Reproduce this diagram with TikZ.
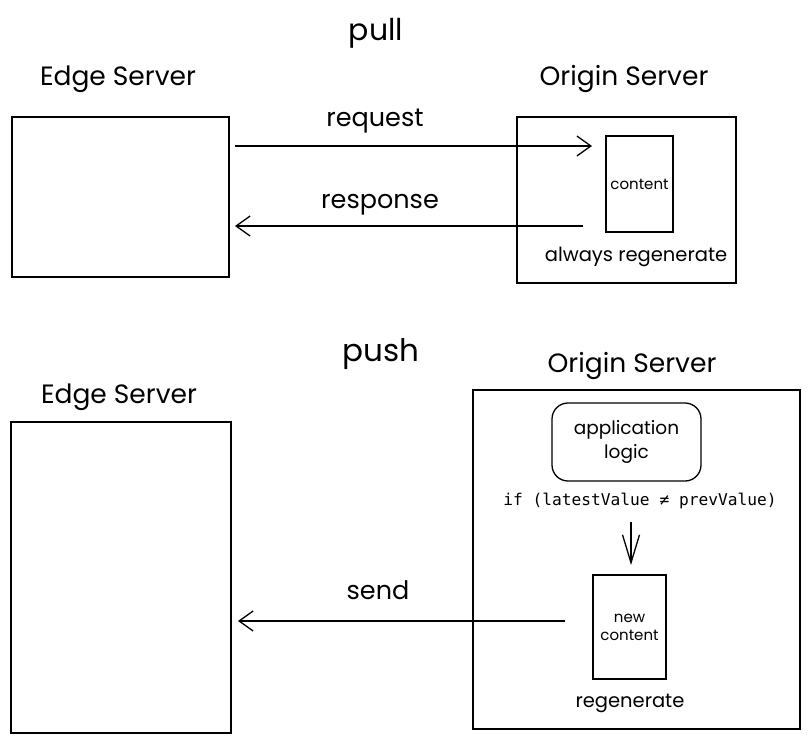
\documentclass[tikz,border=0pt]{standalone}
\usepackage{fontspec}
\setmainfont{Poppins}
\newfontfamily\codefont{DejaVu Sans Mono}
\usetikzlibrary{arrows.meta}
\tikzset{
  box/.style={draw=black, line width=1.3pt, fill=none, inner sep=0pt},
  ttl/.style={font=\fontsize{26.5}{28}\selectfont, inner sep=0pt},
  head/.style={font=\fontsize{30}{32}\selectfont, inner sep=0pt},
  lbl/.style={font=\fontsize{25.5}{27}\selectfont, inner sep=0pt},
  small/.style={font=\fontsize{15}{18}\selectfont, inner sep=0pt, align=center},
  arr/.style={line width=1.3pt, -{Straight Barb[length=14pt,width=20pt,line width=1.3pt]}},
  darr/.style={line width=1.3pt, -{Straight Barb[length=28pt,width=17pt,line width=1.3pt]}}
}
\begin{document}
\begin{tikzpicture}[x=1pt,y=-1pt]
\useasboundingbox[fill=white] (0,0) rectangle (810,740);
% pull section
\node[head] (pull) at (376,33) {pull};
\node[ttl] (et1) at (118,79) {Edge Server};
\node[ttl] (ot1) at (624,79) {Origin Server};
\node[box, minimum width=217pt, minimum height=160pt] (edge1) at (120.5,197) {};
\node[box, minimum width=219pt, minimum height=166pt] (orig1) at (626.5,200) {};
\node[box, minimum width=67pt, minimum height=96pt, font=\fontsize{15}{17}\selectfont] (content) at (639.5,184) {content};
\node[small, font=\fontsize{19.5}{22}\selectfont] (always) at (636,257) {always regenerate};
\coordinate (reqS) at (235,146);
\coordinate (reqE) at (592,146);
\draw[arr] (reqS) -- (reqE);
\node[lbl] (request) at (375,121) {request};
\coordinate (resS) at (583,226);
\coordinate (resE) at (235,226);
\draw[arr] (resS) -- (resE);
\node[lbl] (response) at (380,205) {response};
% push section
\node[head, font=\fontsize{31}{33}\selectfont] (push) at (381,354) {push};
\node[ttl] (et2) at (119,397) {Edge Server};
\node[ttl] (ot2) at (632,366) {Origin Server};
\node[box, minimum width=220pt, minimum height=311pt] (edge2) at (121,577.5) {};
\node[box, minimum width=327pt, minimum height=339pt] (orig2) at (636.5,559.5) {};
\node[box, rounded corners=16pt, minimum width=149pt, minimum height=78pt, small, font=\fontsize{18.5}{24}\selectfont] (logic) at (626.5,442) {application\\logic};
\node[inner sep=0pt, font=\codefont\fontsize{16.2}{18}\selectfont] (cond) at (640,501) {if (latestValue ≠ prevValue)};
\node[box, minimum width=73pt, minimum height=104pt, small] (newc) at (629.5,627) {new\\content};
\coordinate (dS) at (631,522);
\coordinate (dE) at (631,565);
\draw[darr] (dS) -- (dE);
\node[small, font=\fontsize{19.5}{22}\selectfont] (regen) at (630,703) {regenerate};
\coordinate (sendS) at (565,621);
\coordinate (sendE) at (238,621);
\draw[arr] (sendS) -- (sendE);
\node[lbl] (send) at (378,590) {send};
\end{tikzpicture}
\end{document}
